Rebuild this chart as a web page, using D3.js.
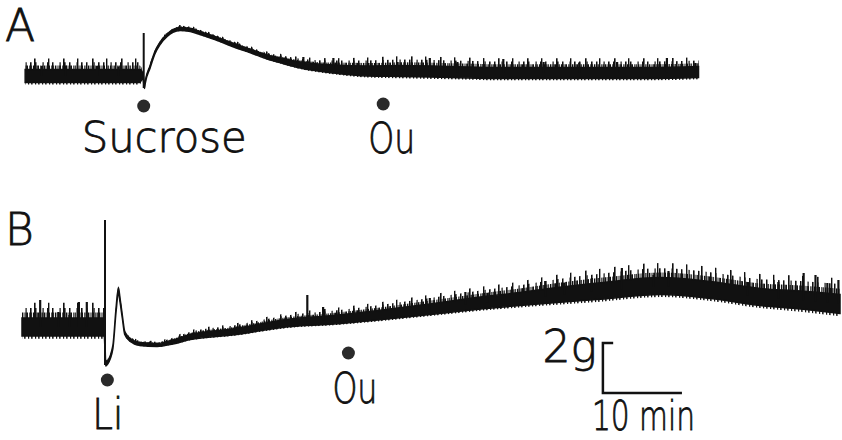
<!DOCTYPE html>
<html>
<head>
<meta charset="utf-8">
<script src="https://cdn.jsdelivr.net/npm/d3@7/dist/d3.min.js"></script>
<style>
  body { margin: 0; background: #fff; }
  text { font-family: "DejaVu Sans", sans-serif; font-weight: 200; fill: #111; stroke: #111; stroke-width: 0.8; }
</style>
</head>
<body>
<div id="chart"></div>
<script>
// trace A: sucrose, time in min, force in g relative to baseline
const traceATime  = [0.4, 4.8, 9.9, 14.9, 15.3, 15.5, 15.6, 16.2, 16.8, 17.5, 18.4, 19.1, 20.0, 21.3, 22.5, 24.4, 26.7, 28.9, 31.0, 33.0, 35.2, 39.4, 43.7, 47.8, 54.2, 60.5, 66.8, 73.2, 79.5, 85.6];
const traceAForce = [0, 0, 0, 0, 0, -0.45, -0.24, 0.36, 0.92, 1.32, 1.64, 1.8, 1.88, 1.84, 1.72, 1.52, 1.24, 1.0, 0.76, 0.6, 0.44, 0.28, 0.2, 0.2, 0.16, 0.12, 0.12, 0.12, 0.12, 0.16];
const traceANoise = [0.26, 0.26, 0.26, 0.26, 0.1, 0.05, 0.05, 0.05, 0.05, 0.05, 0.05, 0.05, 0.06, 0.06, 0.06, 0.06, 0.07, 0.07, 0.08, 0.1, 0.12, 0.16, 0.2, 0.22, 0.22, 0.22, 0.22, 0.22, 0.22, 0.22];
const spikeATime = [2.5, 5.5, 9.5, 12.2, 35.6, 39.4, 44.1, 47.5, 51.6, 55.1, 60.9, 66.0, 70.5, 75.3, 81.6, 85.2];
const spikeATop  = [0.4, 0.42, 0.4, 0.38, 0.76, 0.72, 0.52, 0.56, 0.72, 0.56, 0.68, 0.56, 0.54, 0.56, 0.72, 0.52];
const artifactA = [15.4, -0.48, 1.72];
const markerATime  = [15.4, 45.7];
const markerALabel = ["Sucrose", "Ou"];

// trace B: lithium
const traceBTime  = [0, 4.8, 9.9, 10.4, 10.6, 10.8, 11.5, 11.9, 12.2, 12.4, 12.7, 13.0, 13.7, 14.9, 17.1, 19.1, 21.3, 26.6, 33.7, 39.0, 45.3, 50.8, 58.0, 63.0, 67.7, 73.2, 80.8, 87.1, 93.4, 98.5, 103.5];
const traceBForce = [0, 0, 0, 0, -1.5, -1.44, -0.8, 0.68, 1.48, 1.08, 0.4, -0.24, -0.52, -0.68, -0.72, -0.6, -0.4, -0.2, 0.16, 0.28, 0.48, 0.68, 0.96, 1.12, 1.28, 1.44, 1.64, 1.48, 1.2, 1.08, 0.92];
const traceBNoise = [0.36, 0.36, 0.36, 0.36, 0.06, 0.06, 0.06, 0.08, 0.1, 0.08, 0.06, 0.06, 0.06, 0.06, 0.06, 0.08, 0.1, 0.12, 0.15, 0.17, 0.19, 0.21, 0.24, 0.26, 0.3, 0.33, 0.34, 0.34, 0.34, 0.36, 0.38];
const spikeBTime = [2.3, 4.6, 6.0, 7.2, 8.2, 36.1, 38.1, 51.6, 56.1, 58.9, 66.2, 68.6, 72.1, 75.9, 79.9, 81.8, 91.8, 95.7, 98.9, 100.4, 101.9, 103.3];
const spikeBTop  = [1.08, 0.6, 0.48, 1.0, 1.0, 1.28, 0.8, 1.16, 1.4, 1.36, 1.84, 1.76, 1.96, 2.36, 2.08, 2.24, 1.8, 1.8, 2.16, 2.08, 1.76, 1.88];
const artifactB = [10.5, -1.52, 4.28];
const markerBTime  = [10.8, 41.3];
const markerBLabel = ["Li", "Ou"];

const width = 842, height = 440;

const svg = d3.select('#chart')
  .append('svg')
  .attr('width', width)
  .attr('height', height);

// irregular combs used to roughen the edges of the noisy band
const defs = svg.append('defs');
function comb(id, tile, stripes) {
  const p = defs.append('pattern')
    .attr('id', id)
    .attr('patternUnits', 'userSpaceOnUse')
    .attr('width', tile)
    .attr('height', 60);
  stripes.forEach(([px, w]) => {
    p.append('rect').attr('x', px).attr('y', 0).attr('width', w).attr('height', 60).attr('fill', '#111');
  });
}
comb('combDense', 11, [[0, 1.4], [2.5, 1], [4.2, 1.8], [7.3, 1.2], [9.2, 0.9]]);
comb('combSparse', 17, [[1, 1.5], [8.5, 1.2], [13, 1.6]]);
comb('combTall', 29, [[5, 1.6], [19, 1.4]]);
comb('combLow', 7, [[0, 1.2], [3.1, 1.5]]);

// shared time axis, 10 min = 79 px
const x = d3.scaleLinear().domain([0, 103.5]).range([22, 840]);
// 1 g = 25 px
const yA = d3.scaleLinear().domain([0, 1]).range([76, 51]);
const yB = d3.scaleLinear().domain([0, 1]).range([327, 302]);

function drawTrace(times, force, noise, spT, spTop, artifact, y) {
  const pts = times.map((t, i) => ({ t, f: force[i], n: noise[i] }));
  const g = svg.append('g');

  // roughness above and below the band
  [['combDense', 0.9, 1.6], ['combSparse', 0.9, 2.1], ['combTall', 0.9, 2.7], ['combLow', -0.9, -1.3]].forEach(([id, k0, k1]) => {
    g.append('path')
      .datum(pts)
      .attr('fill', `url(#${id})`)
      .attr('d', d3.area()
        .curve(d3.curveMonotoneX)
        .x(d => x(d.t))
        .y0(d => y(d.f + d.n * k0))
        .y1(d => y(d.f + d.n * k1)));
  });

  // noise band
  g.append('path')
    .datum(pts)
    .attr('fill', '#111')
    .attr('stroke', '#111')
    .attr('stroke-width', 1.5)
    .attr('d', d3.area()
      .curve(d3.curveMonotoneX)
      .x(d => x(d.t))
      .y0(d => y(d.f - d.n))
      .y1(d => y(d.f + d.n)));

  // spikes
  const fAt = t => {
    const i = d3.bisectLeft(times, t);
    if (i <= 0) return force[0];
    if (i >= times.length) return force[times.length - 1];
    const k = (t - times[i - 1]) / (times[i] - times[i - 1]);
    return force[i - 1] + k * (force[i] - force[i - 1]);
  };
  g.selectAll('line.spike')
    .data(spT)
    .enter()
    .append('line')
    .attr('class', 'spike')
    .attr('x1', d => x(d))
    .attr('x2', d => x(d))
    .attr('y1', d => y(fAt(d)))
    .attr('y2', (d, i) => y(spTop[i]))
    .attr('stroke', '#111')
    .attr('stroke-width', 2.2);

  // stimulus artifact
  g.append('line')
    .attr('x1', x(artifact[0]))
    .attr('x2', x(artifact[0]))
    .attr('y1', y(artifact[1]))
    .attr('y2', y(artifact[2]))
    .attr('stroke', '#111')
    .attr('stroke-width', 2);
}

drawTrace(traceATime, traceAForce, traceANoise, spikeATime, spikeATop, artifactA, yA);
drawTrace(traceBTime, traceBForce, traceBNoise, spikeBTime, spikeBTop, artifactB, yB);

// markers and labels
function drawMarkers(times, labels, dotY, textX, textY, textW, size) {
  svg.selectAll(null)
    .data(times)
    .enter()
    .append('circle')
    .attr('cx', d => x(d))
    .attr('cy', (d, i) => dotY[i])
    .attr('r', 6.5)
    .attr('fill', '#2a2a2a');
  svg.selectAll(null)
    .data(labels)
    .enter()
    .append('text')
    .attr('x', (d, i) => x(times[i]) + textX[i])
    .attr('y', (d, i) => textY[i])
    .attr('textLength', (d, i) => textW[i])
    .attr('lengthAdjust', 'spacingAndGlyphs')
    .attr('font-size', size)
    .text(d => d);
}

drawMarkers(markerATime, markerALabel, [106, 104], [-62, -15], [152, 153], [165, 47], 42);
drawMarkers(markerBTime, markerBLabel, [380, 353], [-15, -16], [429, 403], [31, 45], 43);

// panel letters
svg.append('text').attr('x', 5).attr('y', 41).attr('font-size', 44).text('A');
svg.append('text').attr('x', 5).attr('y', 245).attr('font-size', 44).text('B');

// scale bar: 2 g, 10 min
const barT = 73.5, barG = -2.64;
svg.append('path')
  .attr('d', `M${x(barT + 1.3)},${yB(barG + 2)} H${x(barT)} V${yB(barG)} H${x(barT + 10)}`)
  .attr('fill', 'none')
  .attr('stroke', '#111')
  .attr('stroke-width', 2.5);
svg.append('text')
  .attr('x', x(barT) - 6)
  .attr('y', 362)
  .attr('text-anchor', 'end')
  .attr('font-size', 44)
  .text('2g');
svg.append('text')
  .attr('x', 592)
  .attr('y', 430)
  .attr('textLength', 103)
  .attr('lengthAdjust', 'spacingAndGlyphs')
  .attr('font-size', 40)
  .text('10 min');
</script>
</body>
</html>
